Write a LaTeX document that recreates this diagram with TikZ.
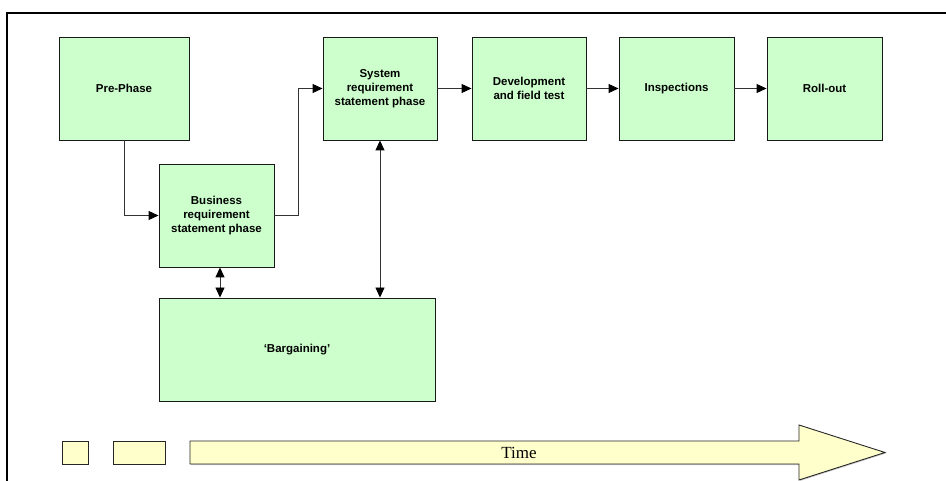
\documentclass[tikz,border=0pt]{standalone}
\usepackage{fontspec}
\setmainfont{Liberation Sans}
\newfontfamily\timefont{Liberation Serif}
\usetikzlibrary{arrows.meta,shadows}

\definecolor{phasegreen}{HTML}{CCFFCC}
\definecolor{timeyellow}{HTML}{FFFFCC}
\definecolor{edgegray}{HTML}{333333}

\tikzset{
  phase/.style={shape=rectangle,draw=black!90,fill=phasegreen,line width=0.9pt,
    inner sep=0pt,minimum height=103pt,align=center,
    font=\fontsize{11.5}{14}\selectfont\bfseries,
    drop shadow={shadow xshift=1.2pt,shadow yshift=-1.2pt,opacity=0.45,fill=gray}},
  tick/.style={shape=rectangle,draw=black!85,fill=timeyellow,line width=0.9pt,
    inner sep=0pt,minimum height=23pt,
    drop shadow={shadow xshift=1pt,shadow yshift=-1pt,opacity=0.4,fill=gray}},
  flow/.style={draw=edgegray,line width=0.9pt,-{Triangle[length=10pt,width=9pt,color=black]}},
  both/.style={draw=edgegray,line width=0.9pt,
    {Triangle[length=10pt,width=9pt,color=black]}-{Triangle[length=10pt,width=9pt,color=black]}}
}

\begin{document}
\begin{tikzpicture}[x=1pt,y=-1pt]
\useasboundingbox (0,0) rectangle (946,481);

% frame
\draw[line width=1.8pt] (946,13) -- (7,13) -- (7,481);

% phases
\node[phase,minimum width=130pt] (pre) at (124,88.5) {Pre-Phase};
\node[phase,minimum width=115pt] (bus) at (216.5,215.5) {Business\\requirement\\statement phase};
\node[phase,minimum width=114pt] (sys) at (380,88.5) {System\\requirement\\statement phase};
\node[phase,minimum width=114pt] (dev) at (529,88.5) {Development\\and field test};
\node[phase,minimum width=115pt] (insp) at (676.5,88.5) {Inspections};
\node[phase,minimum width=115pt] (roll) at (824.5,88.5) {Roll-out};
\node[phase,minimum width=276pt] (barg) at (297,349.5) {`Bargaining'};

% flow between phases
\draw[flow] (pre.south) |- (bus.west);
\draw[flow] (bus.east) -- ++(24,0) |- (sys.west);
\draw[flow] (sys) -- (dev);
\draw[flow] (dev) -- (insp);
\draw[flow] (insp) -- (roll);
\draw[both] ([xshift=3.5pt]bus.south) -- ([xshift=3.5pt]bus.south |- barg.north);
\draw[both] (sys.south) -- (sys.south |- barg.north);

% time line
\node[tick,minimum width=26pt] (t1) at (75,452.5) {};
\node[tick,minimum width=52pt] (t2) at (139,452.5) {};
\draw[draw=black!85,fill=timeyellow,line width=0.9pt,
  drop shadow={shadow xshift=1pt,shadow yshift=-1pt,opacity=0.4,fill=gray}]
  (190,441) -- (799,441) -- (799,425) -- (885,452.5) -- (799,480)
  -- (799,464) -- (190,464) -- cycle;
\node[font=\timefont\fontsize{17}{20}\selectfont] (time) at (519,453) {Time};
\end{tikzpicture}
\end{document}
